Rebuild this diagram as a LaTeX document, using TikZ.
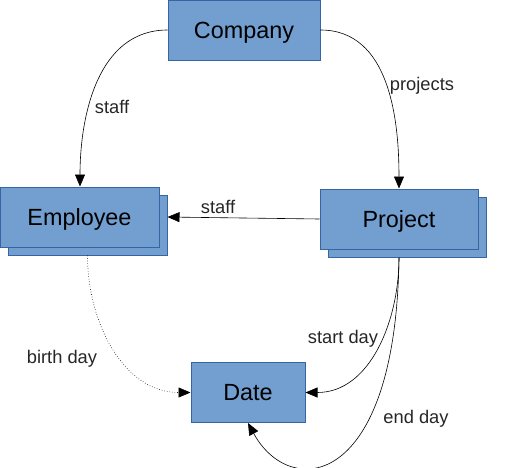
\documentclass[tikz,border=0pt]{standalone}
\usepackage{fontspec}
\setmainfont{Liberation Sans}
\usepackage{xcolor}
\usetikzlibrary{arrows.meta, positioning, shadows, calc}
\definecolor{boxfill}{HTML}{729FCF}
\definecolor{boxline}{HTML}{3465A4}

\begin{document}
\begin{tikzpicture}[
    x=1pt, y=-1pt,
    entity/.style={rectangle, draw=boxline, fill=boxfill, line width=1pt, minimum height=60pt, inner sep=0pt, text height=16.8pt, text depth=0pt, font=\fontsize{23.4}{26}\selectfont},
    multi/.style={entity, copy shadow={shadow xshift=8pt, shadow yshift=-8pt}},
    arrow/.style={-{Triangle[length=12pt, width=10pt]}, line width=0.6pt, draw=black},
    label/.style={font=\fontsize{18.3}{21}\selectfont, text=black!85},
]
\useasboundingbox (0,0) rectangle (531,467);

% Entities
\node[entity, minimum width=152pt] (company) at (244,30) {Company};
\node[multi, minimum width=159pt] (employee) at (79.5,217) {Employee};
\node[multi, minimum width=158pt] (project) at (399,219) {Project};
\node[entity, minimum width=114pt] (date) at (248,392.5) {Date};

% Relations
\draw[arrow] (company.west) to[out=180, in=90] ([xshift=0.5pt]employee.north) ;
\node[label] (lstaffa) at (112,107) {staff};
\draw[arrow] (company.east) to[out=0, in=90] (project.north);
\node[label] (lprojects) at (422,86) {projects};
\draw[arrow] (project.west) -- ([xshift=8pt]employee.east);
\node[label] (lstaffb) at (218,207) {staff};
\draw[arrow, dotted] ([shift={(8pt,-8pt)}]employee.south) to[out=-90, in=180] (date.west);
\node[label] (lbirth) at (62,359) {birth day};
\draw[arrow] ([yshift=-8pt]project.south) to[out=-90, in=0] (date.east);
\node[label] (lstart) at (343,339) {start day};
\draw[arrow] ([yshift=-8pt]project.south) .. controls (396,490) and (290,500) .. (date.south);
\node[label] (lend) at (416,419) {end day};

\end{tikzpicture}
\end{document}
